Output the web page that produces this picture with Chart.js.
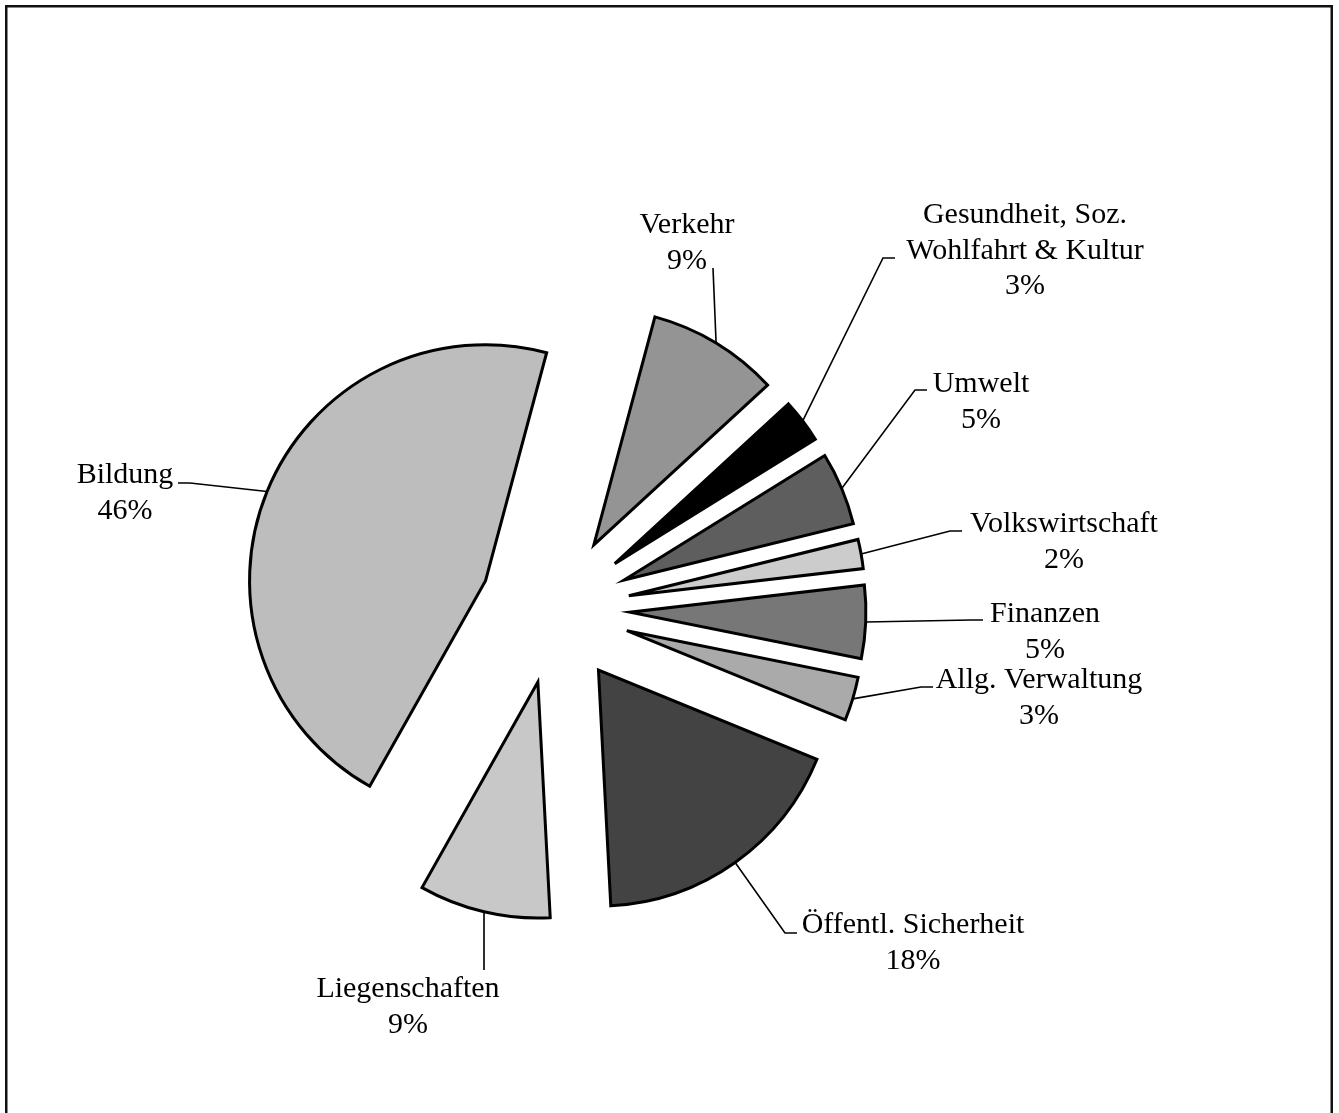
<!DOCTYPE html>
<html>
<head>
<meta charset="utf-8">
<script src="https://cdn.jsdelivr.net/npm/chart.js@4.4.1/dist/chart.umd.min.js"></script>
<style>
    html, body { margin: 0; padding: 0; background: #fff; }
    #wrap { width: 1339px; height: 1113px; position: relative; }
</style>
</head>
<body>
<div id="wrap"><canvas id="pie"></canvas></div>
<script>
// slices clockwise, starting at 15 degrees past 12 o'clock
const categories = [
    'Verkehr',
    ['Gesundheit, Soz.', 'Wohlfahrt & Kultur'],
    'Umwelt',
    'Volkswirtschaft',
    'Finanzen',
    'Allg. Verwaltung',
    'Öffentl. Sicherheit',
    'Liegenschaften',
    'Bildung'
];
const shares = [9, 3, 5, 2, 5, 3, 18, 9, 46];
const sliceColors = ['#949494', '#000000', '#5e5e5e', '#cccccc', '#777777', '#aaaaaa', '#434343', '#c8c8c8', '#bdbdbd'];

// label placement, relative to the pie centre:
// [text centre x, first baseline y, leader end x, leader end y, elbow length]
const labelLayout = [
    [132, -376, 158, -341, 0],
    [470, -386, 340, -351, 12],
    [426, -217, 372, -219, 12],
    [509, -77, 407, -78, 12],
    [490, 13, 428, 11, 12],
    [484, 79, 378, 78, 12],
    [358, 324, 242, 324, 12],
    [-147, 388, -71, 361, 0],
    [-430, -126, -377, -126, -12]
];

const EXPLODE = 75;      // px each slice is pulled out
const FONT = '30px "Liberation Serif", "Times New Roman", serif';
const LINE_H = 35.5;

const total = shares.reduce((a, b) => a + b, 0);

const frame = {
    id: 'frame',
    beforeDraw(chart) {
        const ctx = chart.ctx;
        ctx.save();
        ctx.fillStyle = '#fff';
        ctx.fillRect(0, 0, chart.width, chart.height);
        ctx.strokeStyle = '#111';
        ctx.lineWidth = 2.5;
        ctx.strokeRect(6.25, 6.25, 1325.5, 1200);
        ctx.restore();
    }
};

// draw every arc shifted out along its bisector by the same distance
const explode = {
    id: 'explode',
    beforeDatasetDraw(chart, args) {
        const ctx = chart.ctx;
        args.meta.data.forEach(arc => {
            const h = (arc.startAngle + arc.endAngle) / 2;
            ctx.save();
            ctx.translate(Math.cos(h) * EXPLODE, Math.sin(h) * EXPLODE);
            arc.draw(ctx);
            ctx.restore();
        });
        return false;
    }
};

const sliceLabels = {
    id: 'sliceLabels',
    afterDatasetsDraw(chart) {
        const ctx = chart.ctx;
        const arcs = chart.getDatasetMeta(0).data;
        ctx.save();
        ctx.font = FONT;
        ctx.fillStyle = '#000';
        ctx.strokeStyle = '#000';
        ctx.lineWidth = 1.6;
        ctx.textAlign = 'center';
        ctx.textBaseline = 'alphabetic';
        arcs.forEach((arc, i) => {
            const cx = arc.x, cy = arc.y;
            const h = (arc.startAngle + arc.endAngle) / 2;
            const r = EXPLODE + arc.outerRadius;
            const sx = cx + Math.cos(h) * r;
            const sy = cy + Math.sin(h) * r;
            const [tx, ty, ex, ey, elbow] = labelLayout[i];

            ctx.beginPath();
            ctx.moveTo(sx, sy);
            ctx.lineTo(cx + ex - elbow, cy + ey);
            ctx.lineTo(cx + ex, cy + ey);
            ctx.stroke();

            const name = categories[i];
            const lines = (Array.isArray(name) ? name.slice() : [name]);
            lines.push(Math.round(shares[i] / total * 100) + '%');
            lines.forEach((line, k) => {
                ctx.fillText(line, cx + tx, cy + ty + k * LINE_H);
            });
        });
        ctx.restore();
    }
};

new Chart(document.getElementById('pie'), {
    type: 'pie',
    data: {
        labels: categories,
        datasets: [{
            data: shares,
            backgroundColor: sliceColors,
            borderColor: '#000',
            borderWidth: 3,
            borderJoinStyle: 'miter'
        }]
    },
    options: {
        responsive: true,
        maintainAspectRatio: false,
        animation: false,
        events: [],
        rotation: 15,
        radius: 236,
        layout: {
            padding: { left: 20, right: 249, top: 125, bottom: 20 }
        },
        plugins: {
            legend: { display: false },
            tooltip: { enabled: false }
        }
    },
    plugins: [frame, explode, sliceLabels]
});
</script>
</body>
</html>
